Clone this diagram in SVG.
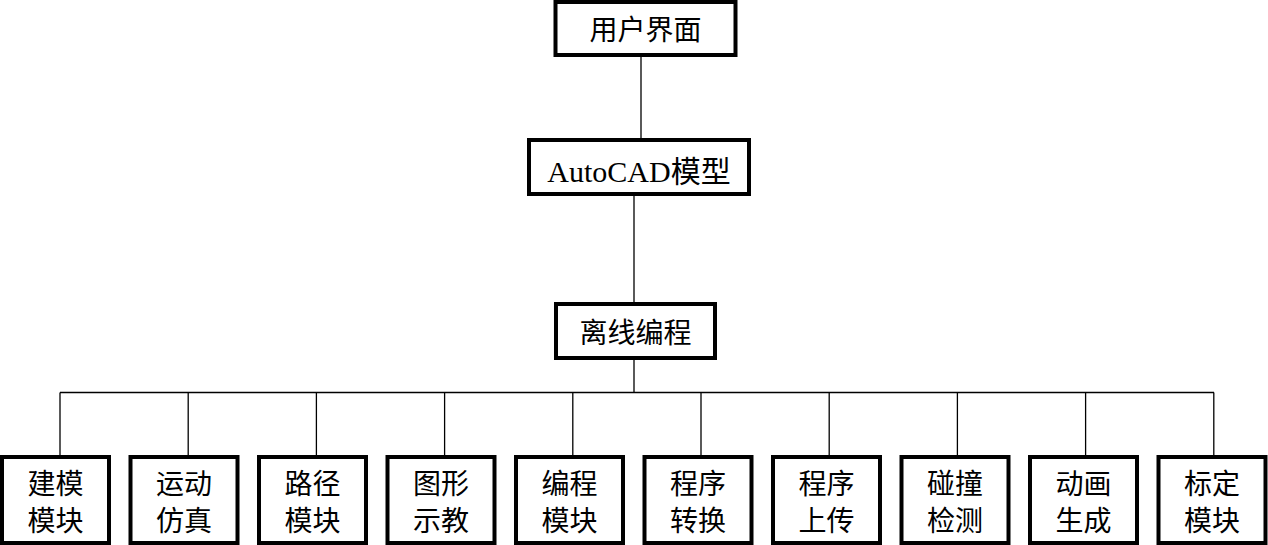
<svg xmlns="http://www.w3.org/2000/svg" width="1268" height="545" viewBox="0 0 1268 545">
<style>
.box{fill:#fff;stroke:#000;stroke-width:4}
.ln{stroke:#000;stroke-width:1.3;fill:none}
.t{font-family:"Liberation Serif","Noto Sans CJK SC",serif;font-size:28px;text-anchor:middle;fill:#000}
</style>
<rect width="1268" height="545" fill="#fff"/>
<g id="connectors">
<line class="ln" x1="641" y1="57" x2="641" y2="138"/>
<line class="ln" x1="634" y1="196" x2="634" y2="302"/>
<line class="ln" x1="634" y1="360" x2="634" y2="392.5"/>
<line class="ln" x1="60" y1="392.5" x2="1214" y2="392.5"/>
<line class="ln" x1="60" y1="392.5" x2="60" y2="456"/>
<line class="ln" x1="188.2" y1="392.5" x2="188.2" y2="456"/>
<line class="ln" x1="316.4" y1="392.5" x2="316.4" y2="456"/>
<line class="ln" x1="444.6" y1="392.5" x2="444.6" y2="456"/>
<line class="ln" x1="572.8" y1="392.5" x2="572.8" y2="456"/>
<line class="ln" x1="701" y1="392.5" x2="701" y2="456"/>
<line class="ln" x1="829.2" y1="392.5" x2="829.2" y2="456"/>
<line class="ln" x1="957.4" y1="392.5" x2="957.4" y2="456"/>
<line class="ln" x1="1085.6" y1="392.5" x2="1085.6" y2="456"/>
<line class="ln" x1="1213.8" y1="392.5" x2="1213.8" y2="456"/>
</g>
<g id="ui"><rect class="box" x="555.5" y="2" width="180" height="53"/><text class="t" x="645.5" y="40">用户界面</text></g>
<g id="autocad"><rect class="box" x="529" y="140" width="220" height="54"/><text class="t" x="639" y="182" style="font-size:30px">AutoCAD模型</text></g>
<g id="offline"><rect class="box" x="556" y="304" width="159" height="54"/><text class="t" x="635.5" y="343">离线编程</text></g>
<g id="m1"><rect class="box" x="2" y="457" width="107" height="86"/><text class="t" x="55.5" y="494">建模</text><text class="t" x="55.5" y="531">模块</text></g>
<g id="m2"><rect class="box" x="130.5" y="457" width="107" height="86"/><text class="t" x="184" y="494">运动</text><text class="t" x="184" y="531">仿真</text></g>
<g id="m3"><rect class="box" x="259" y="457" width="107" height="86"/><text class="t" x="312.5" y="494">路径</text><text class="t" x="312.5" y="531">模块</text></g>
<g id="m4"><rect class="box" x="387.5" y="457" width="107" height="86"/><text class="t" x="441" y="494">图形</text><text class="t" x="441" y="531">示教</text></g>
<g id="m5"><rect class="box" x="516" y="457" width="107" height="86"/><text class="t" x="569.5" y="494">编程</text><text class="t" x="569.5" y="531">模块</text></g>
<g id="m6"><rect class="box" x="644.5" y="457" width="107" height="86"/><text class="t" x="698" y="494">程序</text><text class="t" x="698" y="531">转换</text></g>
<g id="m7"><rect class="box" x="773" y="457" width="107" height="86"/><text class="t" x="826.5" y="494">程序</text><text class="t" x="826.5" y="531">上传</text></g>
<g id="m8"><rect class="box" x="901.5" y="457" width="107" height="86"/><text class="t" x="955" y="494">碰撞</text><text class="t" x="955" y="531">检测</text></g>
<g id="m9"><rect class="box" x="1030" y="457" width="107" height="86"/><text class="t" x="1083.5" y="494">动画</text><text class="t" x="1083.5" y="531">生成</text></g>
<g id="m10"><rect class="box" x="1158.5" y="457" width="107" height="86"/><text class="t" x="1212" y="494">标定</text><text class="t" x="1212" y="531">模块</text></g>
</svg>
